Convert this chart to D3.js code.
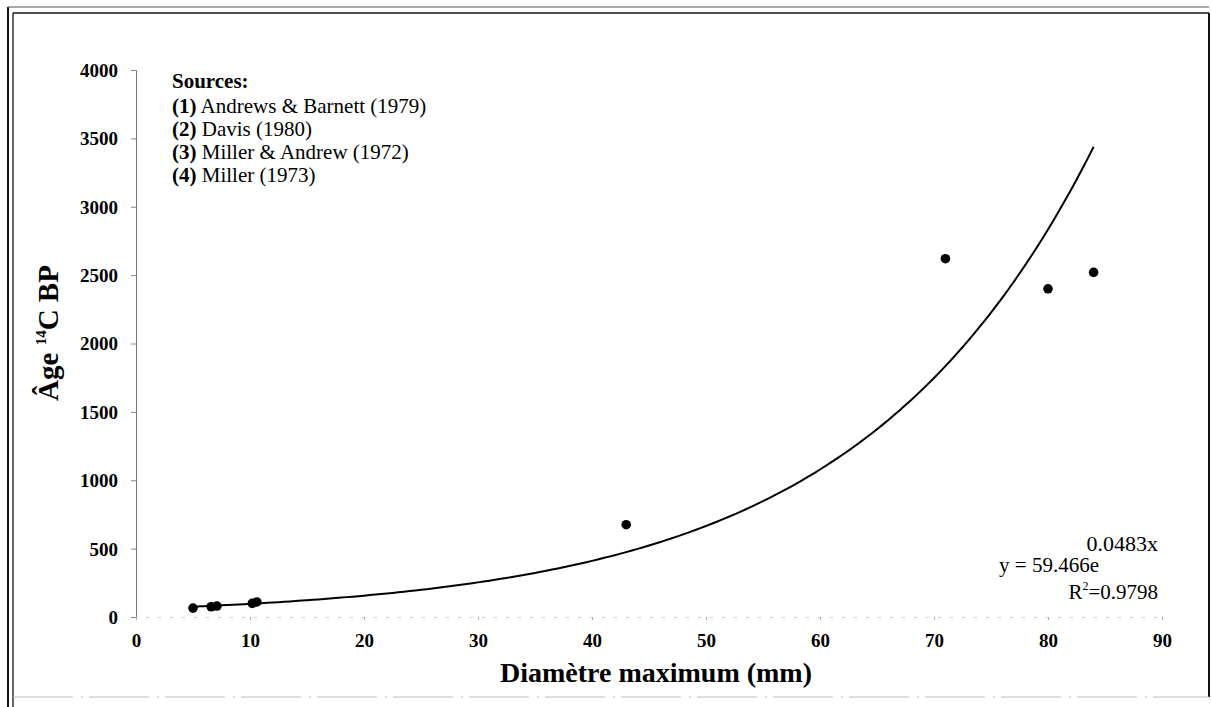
<!DOCTYPE html>
<html lang="fr">
<head>
    <meta charset="UTF-8"/>
    <title>Âge 14C BP vs diamètre maximum</title>
    <script src="https://cdnjs.cloudflare.com/ajax/libs/d3/7.8.5/d3.min.js"></script>
    <style>
        body { margin: 0; background: #fff; }
        text { font-family: "Liberation Serif", "Times New Roman", serif; fill: #000; }
        .tick-label { font-weight: bold; font-size: 19px; }
    </style>
</head>
<body>
<div id="chart"></div>
<script>
    // Data
    const diameters = [5, 6.6, 7.1, 10.2, 10.6, 43, 71, 80, 84];
    const ages = [65, 75, 80, 100, 110, 675, 2620, 2400, 2520];
    const xTicks = [0, 10, 20, 30, 40, 50, 60, 70, 80, 90];
    const yTicks = [0, 500, 1000, 1500, 2000, 2500, 3000, 3500, 4000];
    const sources = [
        ["(1)", "Andrews & Barnett (1979)"],
        ["(2)", "Davis (1980)"],
        ["(3)", "Miller & Andrew (1972)"],
        ["(4)", "Miller (1973)"]
    ];
    // Exponential trend: y = a * e^(b x)
    const fitA = 59.466;
    const fitB = 0.0483;
    const fitRange = [5, 84];

    const width = 1212;
    const height = 707;

    const svg = d3
        .select("#chart")
        .append("svg")
        .attr("width", width)
        .attr("height", height);

    // Frame (double line left/top like the scan)
    const frame = svg.append("g").attr("fill", "none");
    frame.append("line").attr("x1", 8).attr("y1", 7).attr("x2", 8).attr("y2", height)
        .attr("stroke", "#111").attr("stroke-width", 2);
    frame.append("line").attr("x1", 13).attr("y1", 13).attr("x2", 13).attr("y2", height)
        .attr("stroke", "#333").attr("stroke-width", 1.5);
    frame.append("line").attr("x1", 8).attr("y1", 7).attr("x2", 1209).attr("y2", 7)
        .attr("stroke", "#555").attr("stroke-width", 1.2);
    frame.append("line").attr("x1", 13).attr("y1", 13).attr("x2", 1209).attr("y2", 13)
        .attr("stroke", "#111").attr("stroke-width", 1.5);
    frame.append("line").attr("x1", 1209).attr("y1", 13).attr("x2", 1209).attr("y2", 697)
        .attr("stroke", "#111").attr("stroke-width", 2);
    frame.append("line").attr("x1", 13).attr("y1", 697).attr("x2", 1209).attr("y2", 697)
        .attr("stroke", "#bbb").attr("stroke-width", 1).attr("stroke-dasharray", "60,8,2,6");

    // Scales
    const xScale = d3.scaleLinear().domain([0, 90]).range([136, 1162]);
    const yScale = d3.scaleLinear().domain([0, 4000]).range([617, 70]);

    // Y axis
    const yAxis = svg
        .append("g")
        .attr("transform", `translate(${xScale(0)},0)`)
        .call(d3.axisLeft(yScale).tickValues(yTicks).tickFormat(d3.format("d")).tickSize(5).tickPadding(13));
    yAxis.select(".domain").attr("stroke", "#777");
    yAxis.selectAll(".tick line").attr("stroke", "#888");
    yAxis.selectAll(".tick text")
        .attr("class", "tick-label")
        .attr("font-family", null)
        .attr("font-size", null)
        .attr("dy", "0.34em");

    // X axis (very faint in the scan)
    const xAxis = svg
        .append("g")
        .attr("transform", `translate(0,${yScale(0)})`)
        .call(d3.axisBottom(xScale).tickValues(xTicks).tickFormat(d3.format("d")).tickSize(3).tickPadding(14));
    xAxis.select(".domain").attr("stroke", "#ccc").attr("stroke-dasharray", "3,9");
    xAxis.selectAll(".tick line").attr("stroke", "#aaa");
    xAxis.selectAll(".tick text")
        .attr("class", "tick-label")
        .attr("font-family", null)
        .attr("font-size", null);

    // Trend curve
    const curveData = d3.range(fitRange[0], fitRange[1] + 0.01, 0.5)
        .map((x) => ({x: x, y: fitA * Math.exp(fitB * x)}));
    svg
        .append("path")
        .datum(curveData)
        .attr("fill", "none")
        .attr("stroke", "#000")
        .attr("stroke-width", 2)
        .attr("d", d3.line().x((d) => xScale(d.x)).y((d) => yScale(d.y)).curve(d3.curveMonotoneX));

    // Points
    svg
        .selectAll(".point")
        .data(diameters.map((d, i) => ({x: d, y: ages[i]})))
        .enter()
        .append("circle")
        .attr("class", "point")
        .attr("cx", (d) => xScale(d.x))
        .attr("cy", (d) => yScale(d.y))
        .attr("r", 4.8)
        .attr("fill", "#000");

    // Sources block
    const src = svg.append("g").attr("font-size", "21px");
    src.append("text")
        .attr("x", 172)
        .attr("y", 88)
        .attr("font-weight", "bold")
        .text("Sources:");
    sources.forEach((s, i) => {
        const t = src.append("text").attr("x", 172).attr("y", 113 + i * 23);
        t.append("tspan").attr("font-weight", "bold").text(s[0]);
        t.append("tspan").text(" " + s[1]);
    });

    // Trend equation
    svg.append("text")
        .attr("x", 1099)
        .attr("y", 572)
        .attr("text-anchor", "end")
        .attr("font-size", "21px")
        .text("y = 59.466e");
    svg.append("text")
        .attr("x", 1158)
        .attr("y", 551)
        .attr("text-anchor", "end")
        .attr("font-size", "22px")
        .text("0.0483x");
    const r2 = svg.append("text")
        .attr("x", 1158)
        .attr("y", 599)
        .attr("text-anchor", "end")
        .attr("font-size", "21px");
    r2.append("tspan").text("R");
    r2.append("tspan").attr("font-size", "12px").attr("dy", "-9").text("2");
    r2.append("tspan").attr("dy", "9").text("=0.9798");

    // Axis titles
    svg.append("text")
        .attr("x", 656)
        .attr("y", 682)
        .attr("text-anchor", "middle")
        .attr("font-weight", "bold")
        .attr("font-size", "28px")
        .text("Diamètre maximum (mm)");

    const yTitle = svg.append("text")
        .attr("transform", "translate(58,333) rotate(-90)")
        .attr("text-anchor", "middle")
        .attr("font-weight", "bold")
        .attr("font-size", "29px");
    yTitle.append("tspan").text("Âge ");
    yTitle.append("tspan").attr("font-size", "15px").attr("dy", "-12").text("14");
    yTitle.append("tspan").attr("dy", "12").text("C BP");
</script>
</body>
</html>
